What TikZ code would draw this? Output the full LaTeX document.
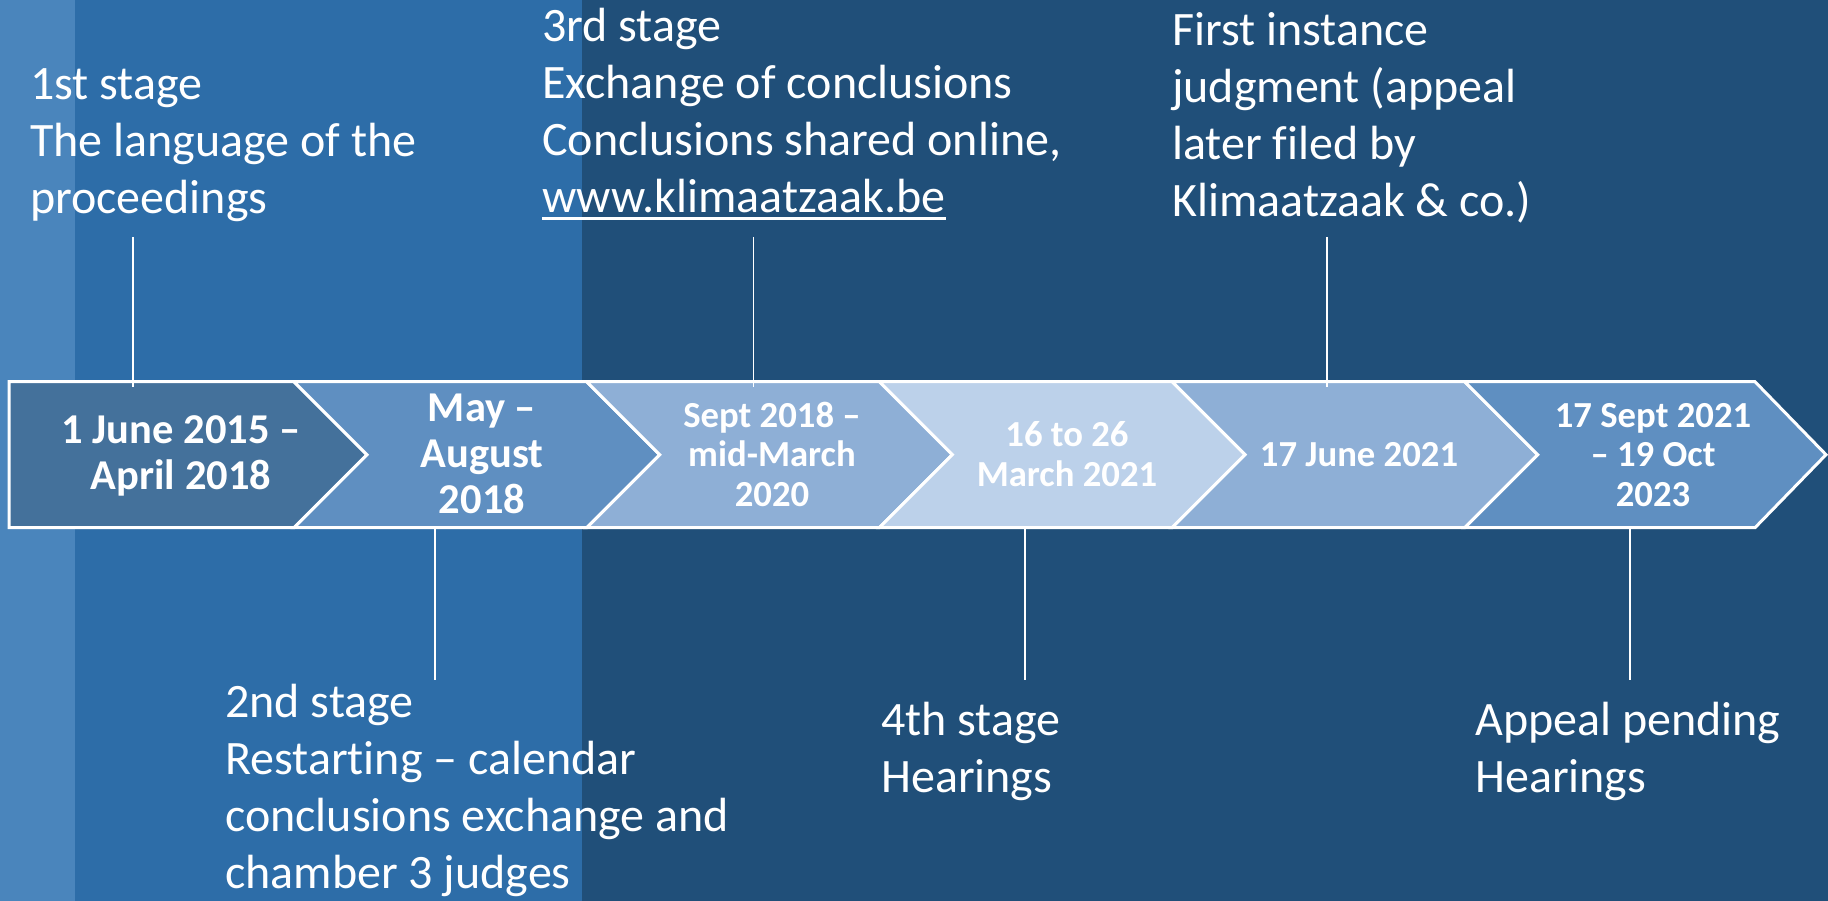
\documentclass[tikz,border=0pt]{standalone}
\usepackage{fontspec}
\setmainfont{Carlito}[Ligatures={TeX,NoCommon}]
\definecolor{bgLight}{HTML}{4A85BC}
\definecolor{bgMid}{HTML}{2D6DA8}
\definecolor{bgDark}{HTML}{204F79}
\definecolor{cA}{HTML}{44719B}
\definecolor{cB}{HTML}{5F8FC1}
\definecolor{cC}{HTML}{8EAFD6}
\definecolor{cD}{HTML}{BCD1EA}
\newcommand\bodyfont{\fontsize{48}{57}\selectfont}
\newcommand\bigdate{\bfseries\fontsize{42.5}{46}\selectfont}
\newcommand\smalldate{\bfseries\fontsize{36.7}{39.6}\selectfont}
\newcommand\myul[1]{\leavevmode\setbox0\hbox{#1}\rlap{\rule[-7pt]{\wd0}{2.5pt}}\box0}
\begin{document}
\begin{tikzpicture}[x=1pt,y=-1pt,
  chev/.style={draw=white,line width=3pt,line join=miter},
  conn/.style={draw=white,line width=1.6pt},
  stagetext/.style={anchor=base west,inner sep=0pt,text=white},
  lab/.style={anchor=base,inner sep=0pt,text=white}]
\useasboundingbox (0,0) rectangle (1828,901);
\fill[bgDark] (0,0) rectangle (1828,901);
\fill[bgMid] (0,0) rectangle (582,901);
\fill[bgLight] (0,0) rectangle (75,901);
\def\yt{381.7}\def\ym{454.7}\def\yb{527.7}
% chevrons
\filldraw[chev,fill=cA] (9,\yt) -- (294,\yt) -- (367,\ym) -- (294,\yb) -- (9,\yb) -- cycle;
\filldraw[chev,fill=cB] (294,\yt) -- (586.7,\yt) -- (659.7,\ym) -- (586.7,\yb) -- (294,\yb) -- (367,\ym) -- cycle;
\filldraw[chev,fill=cC] (586.7,\yt) -- (879.4,\yt) -- (952.4,\ym) -- (879.4,\yb) -- (586.7,\yb) -- (659.7,\ym) -- cycle;
\filldraw[chev,fill=cD] (879.4,\yt) -- (1172.1,\yt) -- (1245.1,\ym) -- (1172.1,\yb) -- (879.4,\yb) -- (952.4,\ym) -- cycle;
\filldraw[chev,fill=cC] (1172.1,\yt) -- (1464.8,\yt) -- (1537.8,\ym) -- (1464.8,\yb) -- (1172.1,\yb) -- (1245.1,\ym) -- cycle;
\filldraw[chev,fill=cB] (1464.8,\yt) -- (1755,\yt) -- (1826,\ym) -- (1755,\yb) -- (1464.8,\yb) -- (1537.8,\ym) -- cycle;
% chevron labels
\node[lab] (d1) at (181,443) {\parbox[t]{300pt}{\centering\bigdate 1 June 2015 –\\April 2018}};
\node[lab] (d2) at (482,421) {\parbox[t]{300pt}{\centering\bigdate May –\\August\\2018}};
\node[lab] (d3) at (772,427) {\parbox[t]{300pt}{\centering\smalldate Sept 2018 –\\mid-March\\2020}};
\node[lab] (d4) at (1067,446.5) {\parbox[t]{300pt}{\centering\smalldate 16 to 26\\March 2021}};
\node[lab] (d5) at (1359,466) {\parbox[t]{300pt}{\centering\smalldate 17 June 2021}};
\node[lab] (d6) at (1653,427) {\parbox[t]{300pt}{\centering\smalldate 17 Sept 2021\\– 19 Oct\\2023}};
% stage texts
\node[stagetext] (s1) at (30,100) {\parbox[t]{500pt}{\raggedright\bodyfont 1st stage\\The language of the\\proceedings}};
\node[stagetext] (s3) at (542,42) {\parbox[t]{600pt}{\raggedright\bodyfont 3rd stage\\Exchange of conclusions\\Conclusions shared online,\\\myul{www.klimaatzaak.be}}};
\node[stagetext] (s5) at (1172,46) {\parbox[t]{600pt}{\raggedright\bodyfont First instance\\judgment (appeal\\later filed by\\Klimaatzaak \& co.)}};
\node[stagetext] (s2) at (225,717) {\parbox[t]{600pt}{\raggedright\bodyfont 2nd stage\\Restarting – calendar\\conclusions exchange and\\chamber 3 judges}};
\node[stagetext] (s4) at (881,735) {\parbox[t]{400pt}{\raggedright\bodyfont 4th stage\\Hearings}};
\node[stagetext] (s6) at (1475,735) {\parbox[t]{400pt}{\raggedright\bodyfont Appeal pending\\Hearings}};
% connectors
\coordinate (t1a) at (132.7,237); \coordinate (t1b) at (132.7,387);
\coordinate (t3a) at (753.3,237); \coordinate (t3b) at (753.3,387);
\coordinate (t5a) at (1326.7,237); \coordinate (t5b) at (1326.7,387);
\coordinate (b2a) at (435,527.7); \coordinate (b2b) at (435,680);
\coordinate (b4a) at (1025,527.7); \coordinate (b4b) at (1025,680);
\coordinate (b6a) at (1629.7,527.7); \coordinate (b6b) at (1629.7,680);
\draw[conn] (t1a) -- (t1b);
\draw[conn] (t3a) -- (t3b);
\draw[conn] (t5a) -- (t5b);
\draw[conn] (b2a) -- (b2b);
\draw[conn] (b4a) -- (b4b);
\draw[conn] (b6a) -- (b6b);
\end{tikzpicture}
\end{document}
